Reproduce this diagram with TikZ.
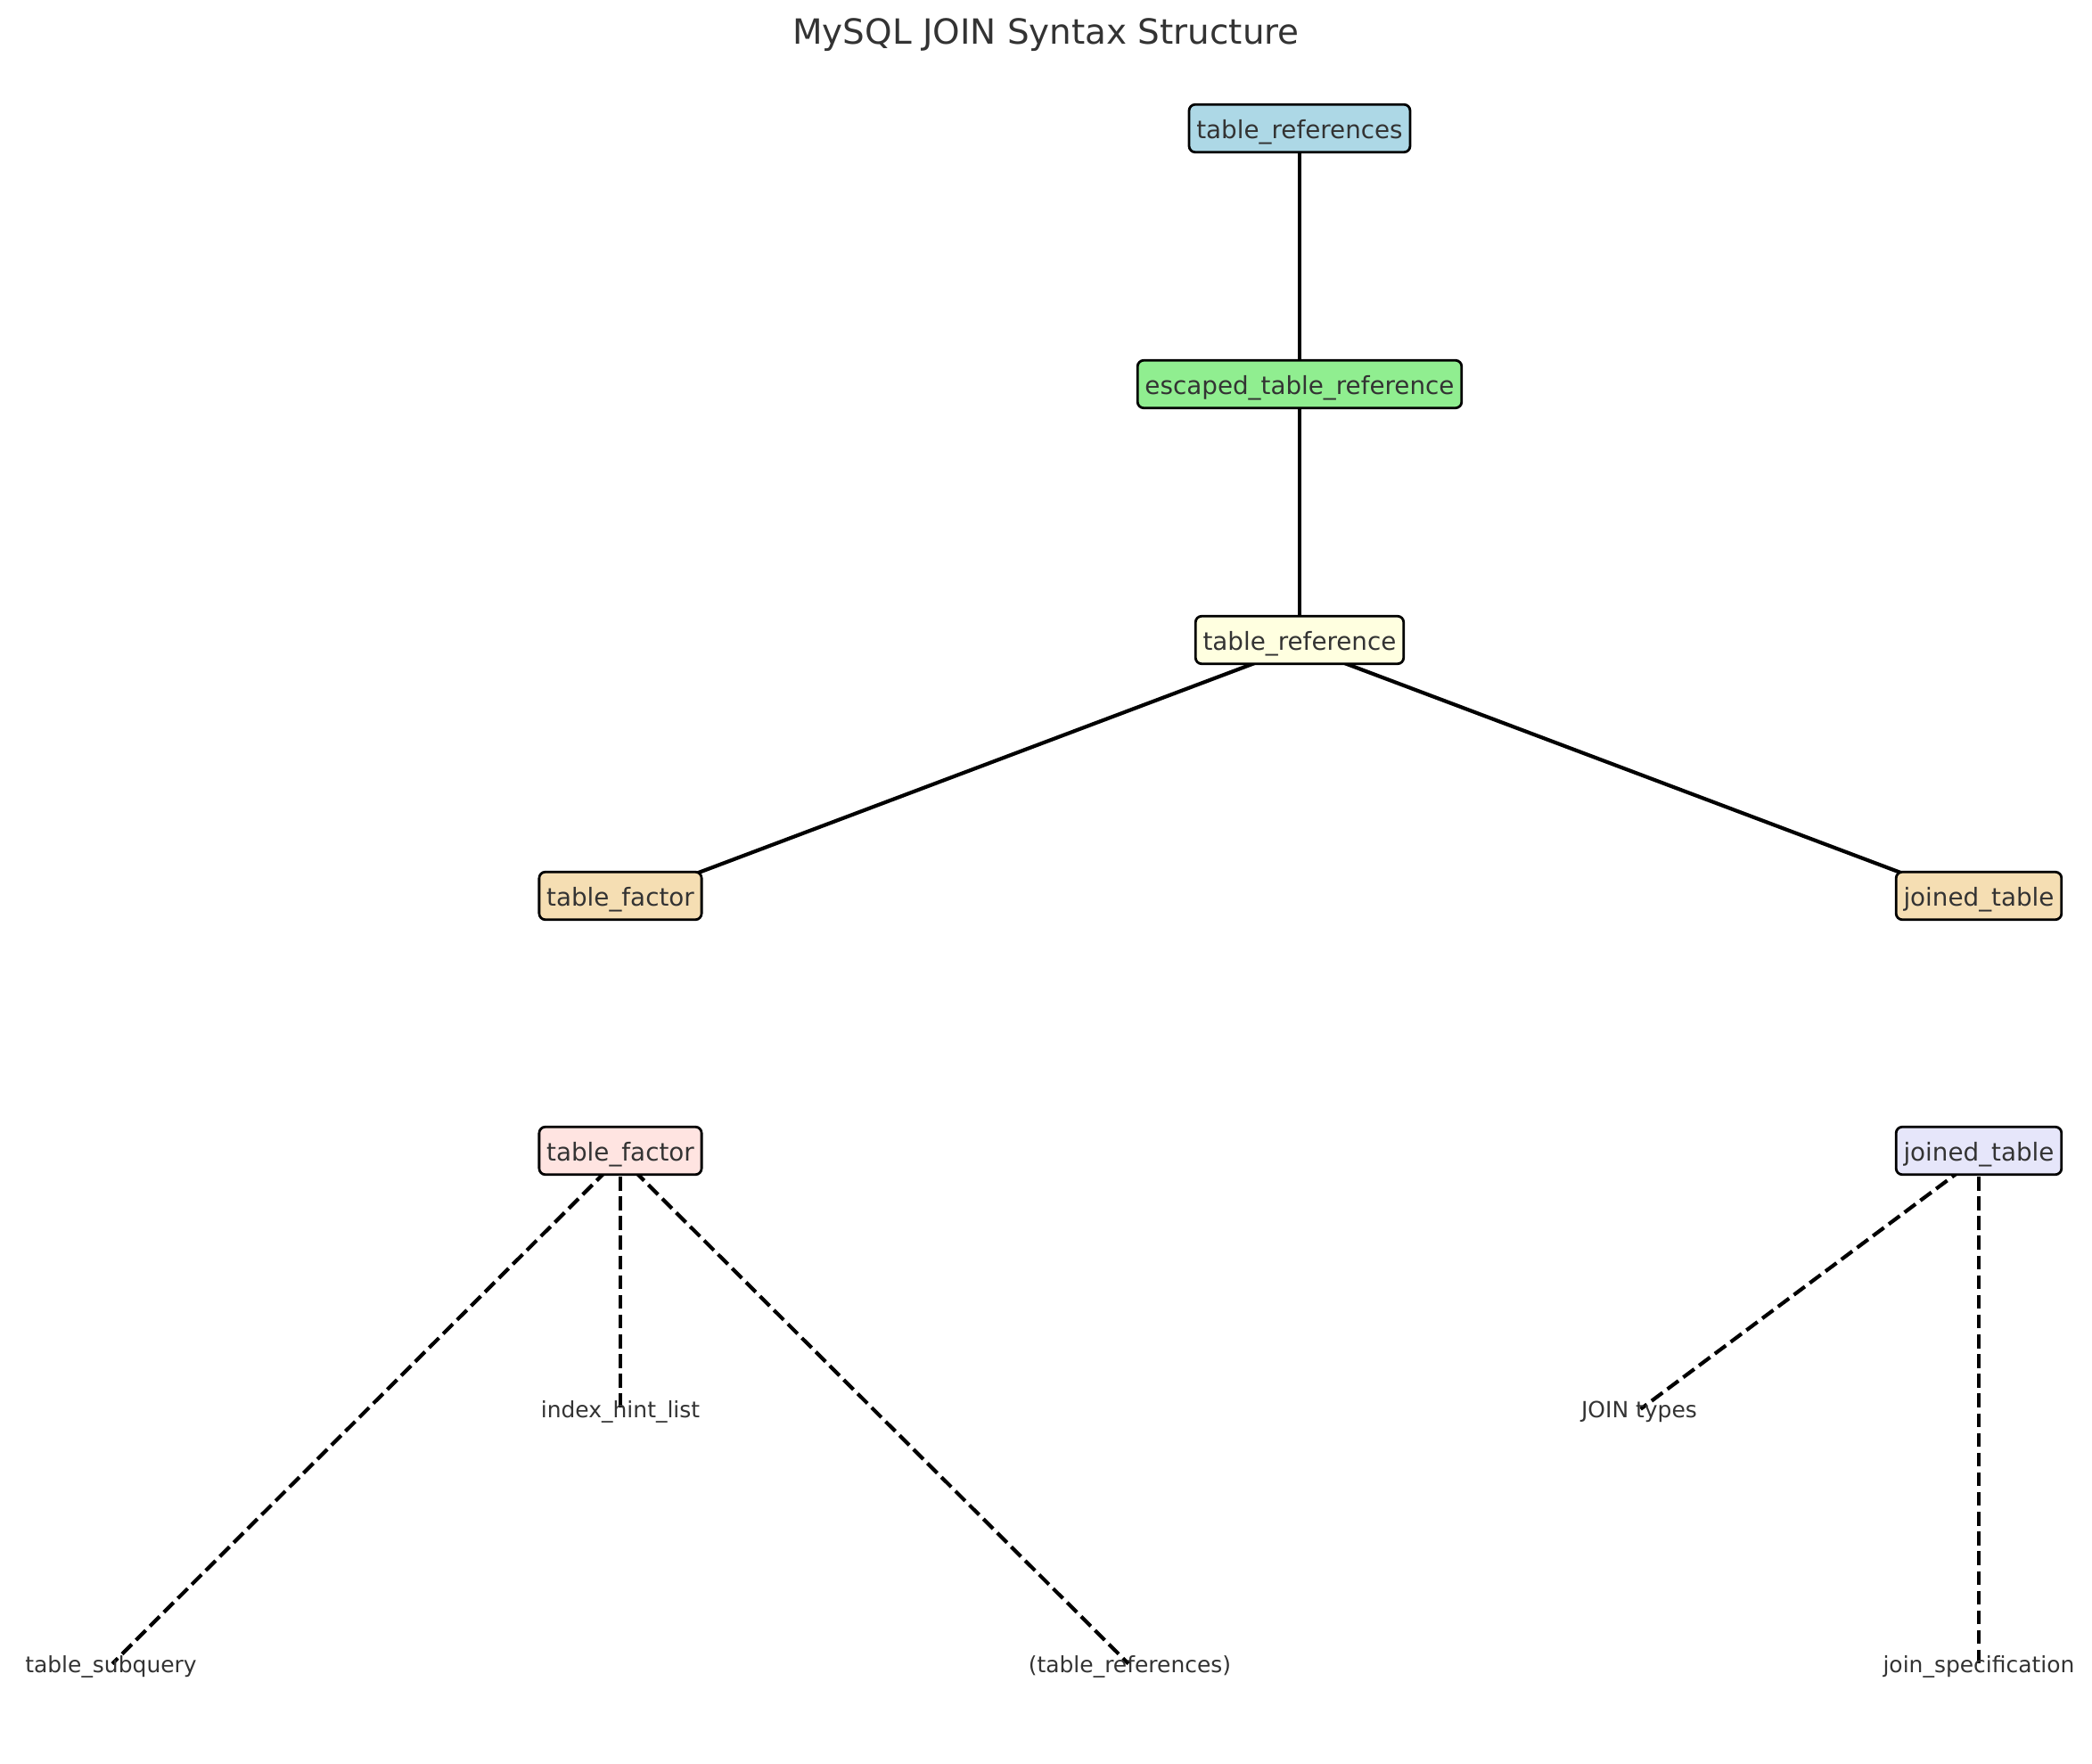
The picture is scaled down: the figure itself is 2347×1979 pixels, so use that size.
\documentclass[tikz,border=0pt]{standalone}
\usepackage{fontspec}
\setmainfont{DejaVu Sans}
\definecolor{txt}{HTML}{333333}
\definecolor{cblue}{HTML}{ADD8E6}
\definecolor{cgreen}{HTML}{90EE90}
\definecolor{cyellow}{HTML}{FFFFE0}
\definecolor{cwheat}{HTML}{F5DEB3}
\definecolor{crose}{HTML}{FFE4E1}
\definecolor{clav}{HTML}{E6E6FA}
\pgfdeclarelayer{background}
\pgfsetlayers{background,main}
\begin{document}
\begin{tikzpicture}[x=0.01cm,y=-0.01cm,
  nodebox/.style={draw=black,line width=0.79pt,rounded corners=0.07cm,
    inner xsep=0.083cm,inner ysep=0.083cm,text=txt,
    font=\fontsize{7.9}{9}\selectfont,text height=0.86em,text depth=0.19em},
  leaf/.style={inner sep=0pt,text=txt,font=\fontsize{7.1}{8.5}\selectfont,
    text height=0.86em,text depth=0.19em},
  solidedge/.style={line width=1.19pt,black},
  dashededge/.style={line width=1.19pt,black,dash pattern=on 4.39pt off 1.9pt,
    shorten >=0.02cm}]
\useasboundingbox (0,0) rectangle (2347,1979);
\node[anchor=base,text=txt,font=\fontsize{11.06}{13}\selectfont] (title) at (1173.5,50) {MySQL JOIN Syntax Structure};
\node[nodebox,fill=cblue] (tr) at (1458,144) {table\_references};
\node[nodebox,fill=cgreen] (etr) at (1458,431) {escaped\_table\_reference};
\node[nodebox,fill=cyellow] (tref) at (1458,718) {table\_reference};
\node[nodebox,fill=cwheat] (tf1) at (696,1005) {table\_factor};
\node[nodebox,fill=cwheat] (jt1) at (2220,1005) {joined\_table};
\node[nodebox,fill=crose] (tf2) at (696,1291) {table\_factor};
\node[nodebox,fill=clav] (jt2) at (2220,1291) {joined\_table};
\node[leaf] (ihl) at (696,1579) {index\_hint\_list};
\node[leaf] (jtypes) at (1839,1579) {JOIN types};
\node[leaf] (tsq) at (124.5,1865) {table\_subquery};
\node[leaf] (ptr) at (1267.5,1865) {(table\_references)};
\node[leaf] (jspec) at (2220,1865) {join\_specification};
\begin{pgfonlayer}{background}
\draw[solidedge] ([yshift=-0.07cm]tr.center) -- ([yshift=-0.07cm]etr.center);
\draw[solidedge] ([yshift=-0.07cm]etr.center) -- ([yshift=-0.07cm]tref.center);
\draw[solidedge] ([yshift=-0.07cm]tref.center) -- ([yshift=-0.07cm]tf1.center);
\draw[solidedge] ([yshift=-0.07cm]tref.center) -- ([yshift=-0.07cm]jt1.center);
\draw[dashededge] ([yshift=-0.07cm]tf2.center) -- ([yshift=-0.03cm]tsq.center);
\draw[dashededge] ([yshift=-0.07cm]tf2.center) -- ([yshift=-0.03cm]ihl.center);
\draw[dashededge] ([yshift=-0.07cm]tf2.center) -- ([yshift=-0.03cm]ptr.center);
\draw[dashededge] ([yshift=-0.07cm]jt2.center) -- ([yshift=-0.03cm]jtypes.center);
\draw[dashededge] ([yshift=-0.07cm]jt2.center) -- ([yshift=-0.03cm]jspec.center);
\end{pgfonlayer}
\end{tikzpicture}
\end{document}
